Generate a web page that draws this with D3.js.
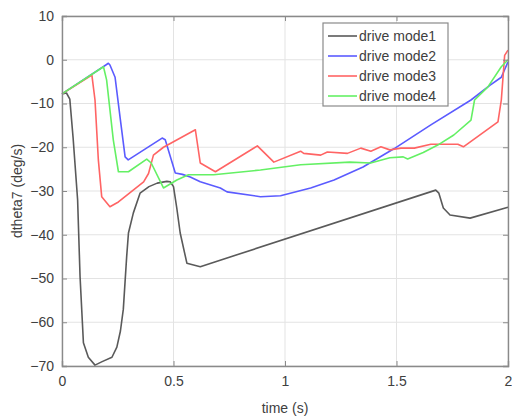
<!DOCTYPE html>
<html>
<head>
<meta charset="utf-8">
<script src="https://cdn.jsdelivr.net/npm/d3@7"></script>
<style>
body{margin:0;background:#fff;}
text{font-family:"Liberation Sans",Arial,sans-serif;fill:#404040;}
</style>
</head>
<body>
<script>
var width = 512;
var height = 418;
var padding = {top:16,right:4,bottom:52,left:62};

var seriesNames = ["drive mode1","drive mode2","drive mode3","drive mode4"];
var colors = ["#5a5a5a","#5b5bff","#ff6464","#64f064"];

var t1 = [0,0.02,0.035,0.05,0.07,0.081,0.096,0.118,0.148,0.18,0.224,0.246,0.262,0.275,0.29,0.298,0.32,0.35,0.39,0.427,0.47,0.485,0.5,0.515,0.53,0.56,0.62,1.676,1.69,1.71,1.74,1.83,2.0];
var v1 = [-7.8,-7.6,-9,-18,-32,-49.6,-64.7,-68,-69.8,-69,-68,-65.7,-62,-57,-45,-39.6,-35,-30.5,-29,-28.2,-27.8,-27.9,-29,-34,-39.6,-46.5,-47.3,-29.8,-30.5,-33.9,-35.5,-36.2,-33.7];

var t2 = [0,0.185,0.208,0.215,0.238,0.26,0.283,0.297,0.449,0.463,0.508,0.54,0.575,0.62,0.71,0.74,0.89,0.98,1.115,1.22,1.35,1.49,1.654,1.834,1.92,1.97,2.0];
var v2 = [-7.8,-1.6,-0.8,-1.2,-4,-13,-22.2,-22.9,-17.9,-18.3,-25.9,-26.2,-26.8,-27.9,-29.3,-30.2,-31.3,-31.1,-29.3,-27.5,-24.5,-20.3,-14.9,-9.2,-5.8,-4,-0.5];

var t3 = [0,0.134,0.148,0.163,0.178,0.215,0.253,0.366,0.388,0.41,0.455,0.598,0.62,0.688,0.876,0.95,1.07,1.084,1.16,1.19,1.28,1.34,1.385,1.43,1.47,1.52,1.58,1.654,1.775,1.8,1.955,1.97,1.985,2.0];
var v3 = [-7.8,-3.5,-9.2,-22.9,-31.3,-33.6,-32.5,-27.9,-26,-21.8,-20,-16,-23.6,-25.6,-19.7,-23.4,-20.9,-21.4,-21.8,-21.1,-21.4,-20.2,-20.9,-19.9,-20.6,-20.2,-20.2,-19.3,-19.3,-19.9,-14.2,-9.2,1,2.2];

var t4 = [0,0.186,0.2,0.23,0.253,0.298,0.38,0.4,0.455,0.515,0.567,0.68,0.89,1.07,1.29,1.384,1.47,1.53,1.55,1.62,1.685,1.757,1.834,1.85,1.91,1.97,2.0];
var v4 = [-7.8,-1.6,-4.6,-18.3,-25.6,-25.6,-22.7,-23.6,-29.3,-27.5,-26.3,-26.3,-25.2,-24,-23.4,-23.6,-22.4,-22.2,-22.7,-21.2,-19.5,-17.2,-13.8,-9.2,-6.2,-1.6,0];

var xTicks = [0,0.5,1,1.5,2];
var yTicks = [10,0,-10,-20,-30,-40,-50,-60,-70];

var series = [[t1,v1],[t2,v2],[t3,v3],[t4,v4]].map(function(s){
	return s[0].map(function(t,i){ return [t,s[1][i]]; });
});

var svg = d3.select("body")
.append("svg")
.attr("width",width)
.attr("height",height);

var plotW = width - padding.left - padding.right;
var plotH = height - padding.top - padding.bottom;

var xScale = d3.scaleLinear().domain([0,2]).range([0,plotW]);
var yScale = d3.scaleLinear().domain([-70,10]).range([plotH,0]);

var g = svg.append("g")
.attr("transform","translate(" + padding.left + "," + padding.top + ")");

// grid
g.selectAll(".gx").data(xTicks).enter().append("line")
.attr("x1",function(d){ return xScale(d); })
.attr("x2",function(d){ return xScale(d); })
.attr("y1",0).attr("y2",plotH)
.attr("stroke","#e3e3e3").attr("stroke-width",1);
g.selectAll(".gy").data(yTicks).enter().append("line")
.attr("y1",function(d){ return yScale(d); })
.attr("y2",function(d){ return yScale(d); })
.attr("x1",0).attr("x2",plotW)
.attr("stroke","#e3e3e3").attr("stroke-width",1);

var line = d3.line()
.x(function(d){ return xScale(d[0]); })
.y(function(d){ return yScale(d[1]); });

g.selectAll(".series").data(series).enter().append("path")
.attr("d",line)
.attr("fill","none")
.attr("stroke-width",1.6)
.attr("stroke-linejoin","round")
.attr("stroke",function(d,i){ return colors[i]; });

// axes
var xAxis = d3.axisBottom(xScale).tickValues(xTicks).tickSize(-5).tickPadding(10).tickFormat(d3.format("~g"));
var yAxis = d3.axisLeft(yScale).tickValues(yTicks).tickSize(-5).tickPadding(8);

g.append("g").attr("transform","translate(0," + plotH + ")").call(xAxis);
g.append("g").call(yAxis);
g.append("g").call(d3.axisTop(xScale).tickValues(xTicks).tickSize(-5).tickFormat(""));
g.append("g").attr("transform","translate(" + plotW + ",0)").call(d3.axisRight(yScale).tickValues(yTicks).tickSize(-5).tickFormat(""));

g.selectAll(".domain").attr("stroke","#8a8a8a").attr("stroke-width",1.4);
g.selectAll(".tick line").attr("stroke","#8a8a8a");
g.selectAll(".tick text").attr("font-size","14px").attr("fill","#404040")
.attr("font-family","'Liberation Sans',Arial,sans-serif");

svg.append("text")
.attr("x",padding.left + plotW/2)
.attr("y",413)
.attr("text-anchor","middle")
.attr("font-size","14px")
.text("time (s)");

svg.append("text")
.attr("transform","translate(22," + (padding.top + plotH/2) + ") rotate(-90)")
.attr("text-anchor","middle")
.attr("font-size","14px")
.text("dtheta7 (deg/s)");

// legend
var legend = svg.append("g").attr("transform","translate(323,23)");
legend.append("rect")
.attr("width",125).attr("height",83)
.attr("fill","#fff").attr("stroke","#8a8a8a").attr("stroke-width",1.2);
var items = legend.selectAll(".item").data(seriesNames).enter().append("g")
.attr("transform",function(d,i){ return "translate(0," + (13 + i*20) + ")"; });
items.append("line")
.attr("x1",5).attr("x2",34)
.attr("stroke-width",1.6)
.attr("stroke",function(d,i){ return colors[i]; });
items.append("text")
.attr("x",36).attr("dy","0.35em")
.attr("font-size","14px")
.text(function(d){ return d; });
</script>
</body>
</html>
